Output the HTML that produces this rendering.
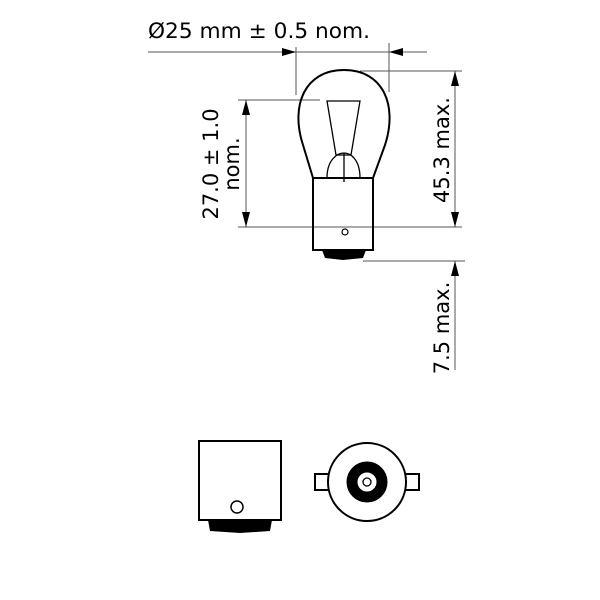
<!DOCTYPE html>
<html><head><style>body{margin:0;background:#fff}svg{display:block}</style></head><body>
<svg width="600" height="600" viewBox="0 0 600 600" xmlns="http://www.w3.org/2000/svg" font-family="'DejaVu Sans','Liberation Sans',sans-serif" fill="none" stroke="#000">
<g stroke="#555" stroke-width="1">
<line x1="148" y1="52" x2="427" y2="52"/>
<line x1="296" y1="47" x2="296" y2="95"/>
<line x1="389" y1="43" x2="389" y2="92"/>
<line x1="360" y1="71" x2="462" y2="71"/>
<line x1="455" y1="71" x2="455" y2="227"/>
<line x1="238" y1="227" x2="462" y2="227"/>
<line x1="238" y1="100" x2="320" y2="100"/>
<line x1="246" y1="100" x2="246" y2="227"/>
<line x1="363" y1="261" x2="465" y2="261"/>
<line x1="455" y1="261" x2="455" y2="370"/>
</g>
<g fill="#000" stroke="none">
<polygon points="296,52 282,48 282,56"/>
<polygon points="389,52 403,48 403,56"/>
<polygon points="455,71 451,86 459,86"/>
<polygon points="455,227 451,212 459,212"/>
<polygon points="246,100 242,115 250,115"/>
<polygon points="246,227 242,212 250,212"/>
<polygon points="455,261 451,276 459,276"/>
</g>
<g stroke-width="2">
<path d="M313,178 L303,145 C290,105 305,70 344,70 C383,70 398,105 385,145 L373,178"/>
<rect x="313" y="178" width="60" height="72"/>
</g>
<path d="M327,101 L360,101 L351,155 L336,155 Z" stroke-width="1.3"/>
<path d="M327,178 C327,160 337,153 344,153 C351,153 360,160 360,178" stroke-width="1.3"/>
<line x1="344" y1="153" x2="344" y2="182" stroke-width="1.3"/>
<polygon points="322,250 366,250 363,258 343,260 325,258" fill="#000" stroke="none"/>
<circle cx="345" cy="232" r="3" stroke-width="1.2"/>
<g stroke-width="2">
<rect x="199" y="441" width="82" height="79"/>
<circle cx="367" cy="482" r="39"/>
<path d="M328,474 H315 V490 H328"/>
<path d="M406,474 H419 V490 H406"/>
</g>
<polygon points="208,520 272,520 270,531 240,533 210,531" fill="#000" stroke="none"/>
<circle cx="237" cy="507" r="6" stroke-width="1.5"/>
<circle cx="367" cy="482" r="15" stroke="#000" stroke-width="11"/>
<circle cx="367" cy="482" r="4" stroke-width="1.3"/>
<g fill="#000" stroke="none" font-size="21">
<text x="148" y="38" textLength="222" lengthAdjust="spacingAndGlyphs">Ø25 mm ± 0.5 nom.</text>
<text transform="translate(218,164) rotate(-90)" text-anchor="middle">27.0 ± 1.0</text>
<text transform="translate(239,164) rotate(-90)" text-anchor="middle">nom.</text>
<text transform="translate(449,150) rotate(-90)" text-anchor="middle">45.3 max.</text>
<text transform="translate(449,328) rotate(-90)" text-anchor="middle">7.5 max.</text>
</g>
</svg>
</body></html>
